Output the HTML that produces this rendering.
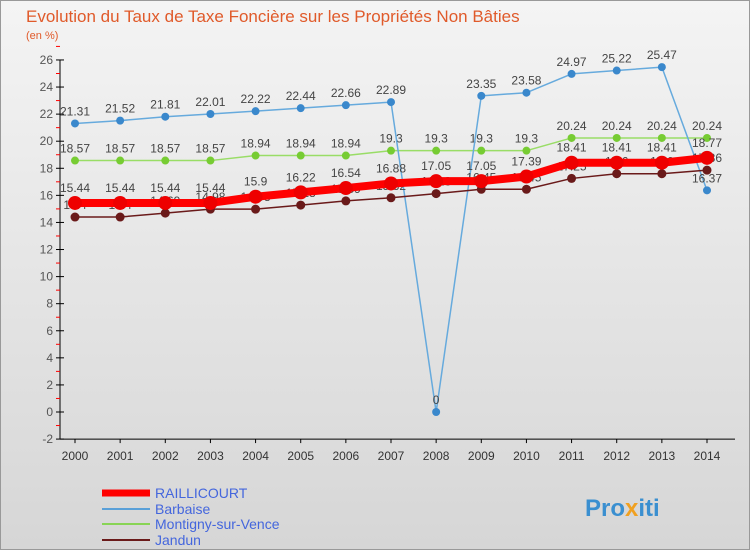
<!DOCTYPE html>
<html><head><meta charset="utf-8"><style>
body{margin:0;width:750px;height:550px;overflow:hidden;font-family:"Liberation Sans",sans-serif;}
</style></head><body>
<svg width="750" height="550" xmlns="http://www.w3.org/2000/svg" font-family="Liberation Sans, sans-serif">
<defs><linearGradient id="bg" x1="0" y1="0" x2="0" y2="1"><stop offset="0" stop-color="#f4f4f4"/><stop offset="1" stop-color="#d6d6d6"/></linearGradient></defs>
<rect x="0" y="0" width="750" height="550" fill="url(#bg)"/>
<rect x="0.5" y="0.5" width="749" height="549" fill="none" stroke="#999"/>
<text x="26" y="22" font-size="17" fill="#e05a2a">Evolution du Taux de Taxe Foncière sur les Propriétés Non Bâties</text>
<text x="26" y="39" font-size="11" fill="#e05a2a">(en %)</text>
<g id="axes"></g><g id="series"></g>
<g font-size="14">
<line x1="102" y1="493" x2="150" y2="493" stroke="#ff0000" stroke-width="7"/><text x="155" y="498" fill="#4466dd">RAILLICOURT</text>
<line x1="102" y1="509" x2="150" y2="509" stroke="#5aa0d8" stroke-width="2"/><text x="155" y="514" fill="#4466dd">Barbaise</text>
<line x1="102" y1="524" x2="150" y2="524" stroke="#88d455" stroke-width="2"/><text x="155" y="529" fill="#4466dd">Montigny-sur-Vence</text>
<line x1="102" y1="540" x2="150" y2="540" stroke="#6a1a1a" stroke-width="2"/><text x="155" y="545" fill="#4466dd">Jandun</text>
</g>
<text x="585" y="516" font-size="24" font-weight="bold" fill="#3a8fd0">Pro<tspan fill="#f0a020">x</tspan>iti</text>
</svg>
<script>
const years=["2000","2001","2002","2003","2004","2005","2006","2007","2008","2009","2010","2011","2012","2013","2014"];
const yTicks=[-2,0,2,4,6,8,10,12,14,16,18,20,22,24,26];
const raillicourt=[15.44,15.44,15.44,15.44,15.9,16.22,16.54,16.88,17.05,17.05,17.39,18.41,18.41,18.41,18.77];
const barbaise=[21.31,21.52,21.81,22.01,22.22,22.44,22.66,22.89,0,23.35,23.58,24.97,25.22,25.47,16.37];
const montigny=[18.57,18.57,18.57,18.57,18.94,18.94,18.94,19.3,19.3,19.3,19.3,20.24,20.24,20.24,20.24];
const jandun=[14.4,14.4,14.69,14.98,14.98,15.28,15.59,15.82,16.13,16.45,16.45,17.25,17.6,17.6,17.86];
const NS="http://www.w3.org/2000/svg";
const X=i=>75+i*(707-75)/14;
const Y=v=>412-v*13.54;
function mk(p,tag,a){const e=document.createElementNS(NS,tag);for(const k in a)e.setAttribute(k,a[k]);p.appendChild(e);return e;}
const ax=document.getElementById('axes'),sr=document.getElementById('series');
const ya=mk(ax,'line',{x1:60,y1:Y(26),x2:60,y2:Y(-2),stroke:'#000'});


const xa=mk(ax,'line',{x1:60,y1:Y(-2),x2:735,y2:Y(-2),stroke:'#000'});


yTicks.forEach(t=>{mk(ax,'line',{x1:56,y1:Y(t),x2:64,y2:Y(t),stroke:'#000'});
mk(ax,'line',{x1:56,y1:Y(t+1),x2:60,y2:Y(t+1),stroke:'#f00'});
const tx=mk(ax,'text',{x:53,y:Y(t)+4,'font-size':12,'text-anchor':'end',fill:'#555'});tx.textContent=t;

});
years.forEach((y,i)=>{mk(ax,'line',{x1:X(i),y1:Y(-2),x2:X(i),y2:Y(-2)+4,stroke:'#000'});
const tx=mk(ax,'text',{x:X(i),y:Y(-2)+21,'font-size':12,'text-anchor':'middle',fill:'#333'});tx.textContent=y;

});
function series(name,d,col,w,r,dot,lblOff){const g=mk(sr,'g',{});


mk(g,'polyline',{points:d.map((v,i)=>X(i)+','+Y(v)).join(' '),fill:'none',stroke:col,'stroke-width':w,'stroke-linejoin':'round'});
d.forEach((v,i)=>{const c=mk(g,'circle',{cx:X(i),cy:Y(v),r:r,fill:dot});


const t=mk(g,'text',{x:X(i),y:Y(v)+lblOff,'font-size':12,'text-anchor':'middle',fill:'#444'});t.textContent=v;});}
series('montigny',montigny,'#99dd66',1.5,4,'#77cc33',-8);
series('barbaise',barbaise,'#66aadd',1.5,4,'#3a88cc',-8);
series('jandun',jandun,'#6a1a1a',1.5,4.5,'#6a1a1a',-8);
series('raillicourt',raillicourt,'#ff0000',8,7,'#ee0000',-11);
</script>
</body></html>
